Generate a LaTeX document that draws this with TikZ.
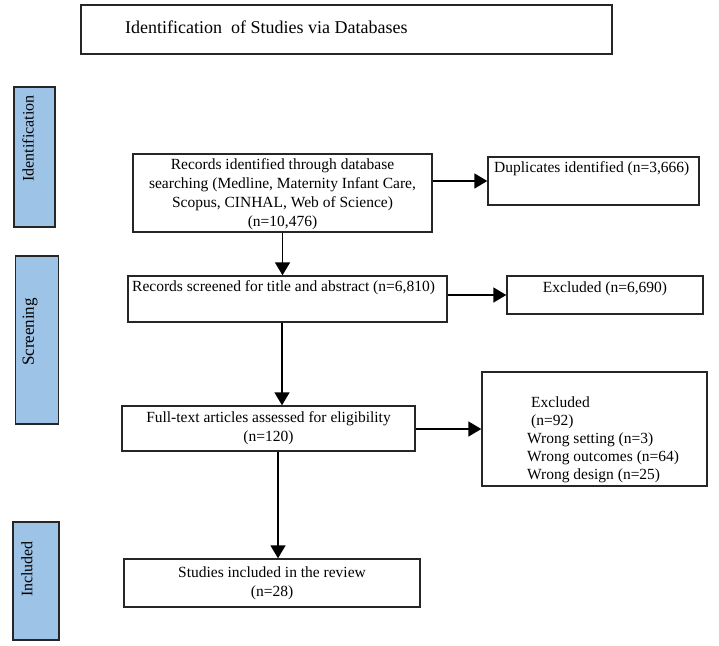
\documentclass[tikz,border=0pt]{standalone}
\usepackage{fontspec}
\setmainfont{Liberation Serif}
\usetikzlibrary{arrows.meta}
\tikzset{
  box/.style={draw=black!85, line width=1.4pt, inner sep=0pt, font=\fontsize{15.5}{19}\selectfont},
  phase/.style={draw=black!85, line width=1.2pt, fill=phaseblue, inner sep=0pt},
  phasetext/.style={inner sep=0pt, rotate=90, font=\fontsize{16}{18}\selectfont},
  arr/.style={line width=1.6pt, -{Triangle[length=13pt,width=15pt]}},
  txt/.style={inner sep=0pt, font=\fontsize{15.5}{18}\selectfont}
}
\definecolor{phaseblue}{HTML}{9DC3E6}
\begin{document}
\begin{tikzpicture}[x=1pt,y=-1pt]
\useasboundingbox (0,0) rectangle (719,645);
\fill[white] (0,0) rectangle (719,645);
% title
\node[draw=black!85, line width=1.2pt, minimum width=531pt, minimum height=49pt, inner sep=0pt] (title) at (346.5,29.5) {};
\node[txt, anchor=west, font=\fontsize{18}{20}\selectfont] (titletext) at (125,27) {Identification\ \ of Studies via Databases};
% phases
\node[phase, minimum width=41pt, minimum height=140pt] (pid) at (34.5,157) {};
\node[phasetext] (pidtext) at (28,138.5) {Identification};
\node[phase, minimum width=43pt, minimum height=168pt] (pscr) at (37,340) {};
\node[phasetext, font=\fontsize{17}{18}\selectfont] (pscrtext) at (30,332) {Screening};
\node[phase, minimum width=46pt, minimum height=118pt] (pinc) at (36,581) {};
\node[phasetext] (pinctext) at (27,569) {Included};
% boxes
\node[box, minimum width=299pt, minimum height=78pt] (rec) at (282.5,193) {};
\node[txt, align=center, font=\fontsize{15.5}{19}\selectfont] (rectext) at (282.5,194.5)
  {Records identified through database\\searching (Medline, Maternity Infant Care,\\Scopus, CINHAL, Web of Science)\\(n=10,476)};
\node[box, minimum width=211pt, minimum height=48pt] (dup) at (593.5,181) {};
\node[txt, anchor=west] (duptext) at (494,169) {Duplicates identified (n=3,666)};
\node[box, minimum width=319pt, minimum height=46pt] (scr) at (287.5,299) {};
\node[txt, anchor=west] (scrtext) at (132,288) {Records screened for title and abstract (n=6,810)};
\node[box, minimum width=196pt, minimum height=38pt] (exc1) at (605,295) {};
\node[txt] (exc1text) at (605,289) {Excluded (n=6,690)};
\node[box, minimum width=293pt, minimum height=45pt, align=center] (full) at (268.5,428.5)
  {Full-text articles assessed for eligibility\\(n=120)};
\node[box, minimum width=225pt, minimum height=114pt] (exc2) at (594.5,429) {};
\node[txt, anchor=west, align=left] (exc2text) at (527,439.5)
  {\hspace*{4pt}Excluded\\\hspace*{4pt}(n=92)\\Wrong setting (n=3)\\Wrong outcomes (n=64)\\Wrong design (n=25)};
\node[box, minimum width=296pt, minimum height=48pt, align=center] (inc) at (272,583)
  {Studies included in the review\\(n=28)};
% arrows
\draw[arr] (rec.east |- dup.west) -- (dup.west);
\draw[arr] (rec.south) -- (rec.south |- scr.north);
\draw[arr] (scr.east |- exc1.west) -- (exc1.west);
\draw[arr] ([xshift=-5.5pt]scr.south) -- ([xshift=-5.5pt]scr.south |- full.north);
\draw[arr] (full.east |- exc2.west) -- (exc2.west);
\draw[arr] ([xshift=9.5pt]full.south) -- ([xshift=9.5pt]full.south |- inc.north);
\end{tikzpicture}
\end{document}
